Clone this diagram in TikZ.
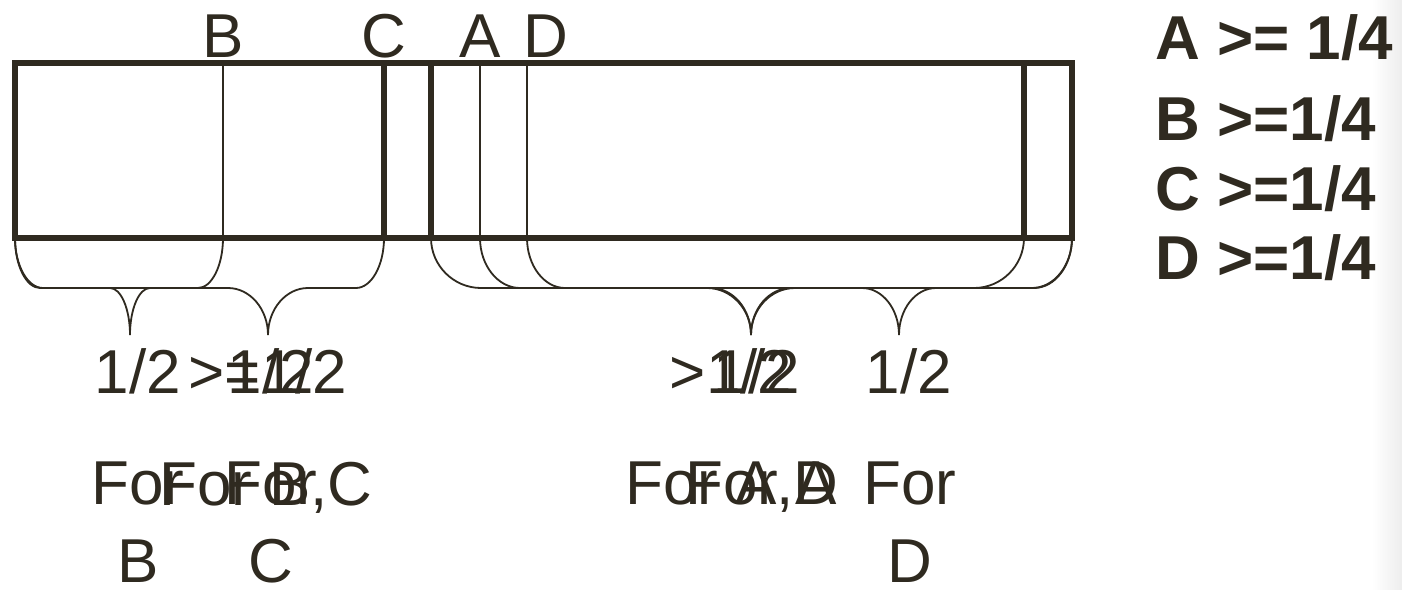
\documentclass[tikz,border=0pt]{standalone}
\usepackage{fontspec}
\setmainfont{Liberation Sans}
\definecolor{ink}{RGB}{47,42,32}
\newcommand{\mybrace}[5]{%
 \draw[bracestyle] (#1,238) .. controls (#1,265.5) and ({#1+0.45*#4},288) .. ({#1+#4},288)
   -- ({#3-#5},288) .. controls ({#3-0.45*#5},288) and (#3,309) .. (#3,335)
   .. controls (#3,309) and ({#3+0.45*#5},288) .. ({#3+#5},288)
   -- ({#2-#4},288) .. controls ({#2-0.45*#4},288) and (#2,265.5) .. (#2,238);}
\begin{document}
\begin{tikzpicture}[x=1pt,y=-1pt,
  thickline/.style={draw=ink,line width=6.5pt},
  thinline/.style={draw=ink,line width=1.6pt},
  bracestyle/.style={draw=ink,line width=1.8pt},
  lbl/.style={text=ink,inner sep=0pt,font=\fontsize{62}{78}\selectfont},
  legend/.style={text=ink,inner sep=0pt,anchor=base west,font=\fontsize{62}{74}\selectfont\bfseries}]
\fill[white] (0,0) rectangle (1402,589);
\useasboundingbox (0,0) rectangle (1402,589);
\shade[left color=white,right color=black!7] (1372,0) rectangle (1402,589);
% boxes
\draw[thinline] (223,63) -- (223,238);
\draw[thinline] (480,63) -- (480,238);
\draw[thinline] (527,63) -- (527,238);
\draw[thickline] (384,63) -- (384,238);
\draw[thickline] (431,63) -- (431,238);
\draw[thickline] (1024,63) -- (1024,238);
\draw[thickline,line join=miter] (15,63) rectangle (1072,238);
% braces
\mybrace{15}{223}{130}{25}{20}
\mybrace{15}{384}{268}{28}{40}
\mybrace{431}{1024}{751}{50}{44}
\mybrace{480}{1072}{751}{40}{40}
\mybrace{527}{1072}{899}{38}{37}
% top labels
\node[lbl,anchor=base] (tB) at (223,57) {B};
\node[lbl,anchor=base] (tC) at (384,57) {C};
\node[lbl,anchor=base] (tA) at (480,57) {A};
\node[lbl,anchor=base] (tD) at (546,57) {D};
% numbers
\node[lbl,anchor=base] (n1) at (138,393) {1/2};
\node[lbl,anchor=base] (n2) at (268,393) {>=1/2};
\node[lbl,anchor=base] (n3) at (271,393) {1/2};
\node[lbl,anchor=base] (n4) at (731,393) {>1/2};
\node[lbl,anchor=base] (n5) at (757,393) {1/2};
\node[lbl,anchor=base] (n6) at (909,393) {1/2};
% bottom texts
\node[lbl,anchor=north,align=center] (fB) at (138,462) {For\\B};
\node[lbl,anchor=north,align=center] (fC) at (271,462) {For\\C};
\node[lbl,anchor=north west] (fBC) at (159,462) {For B,C};
\node[lbl,anchor=north west] (fAD) at (625,462) {For A,D};
\node[lbl,anchor=north west] (fA) at (685,462) {For A};
\node[lbl,anchor=north,align=center] (fD) at (910,462) {For\\D};
% legend
\node[legend] (lA) at (1155,59) {A >= 1/4};
\node[legend] (lB) at (1155,140) {B >=1/4};
\node[legend] (lC) at (1155,210) {C >=1/4};
\node[legend] (lD) at (1155,279) {D >=1/4};
\end{tikzpicture}
\end{document}
